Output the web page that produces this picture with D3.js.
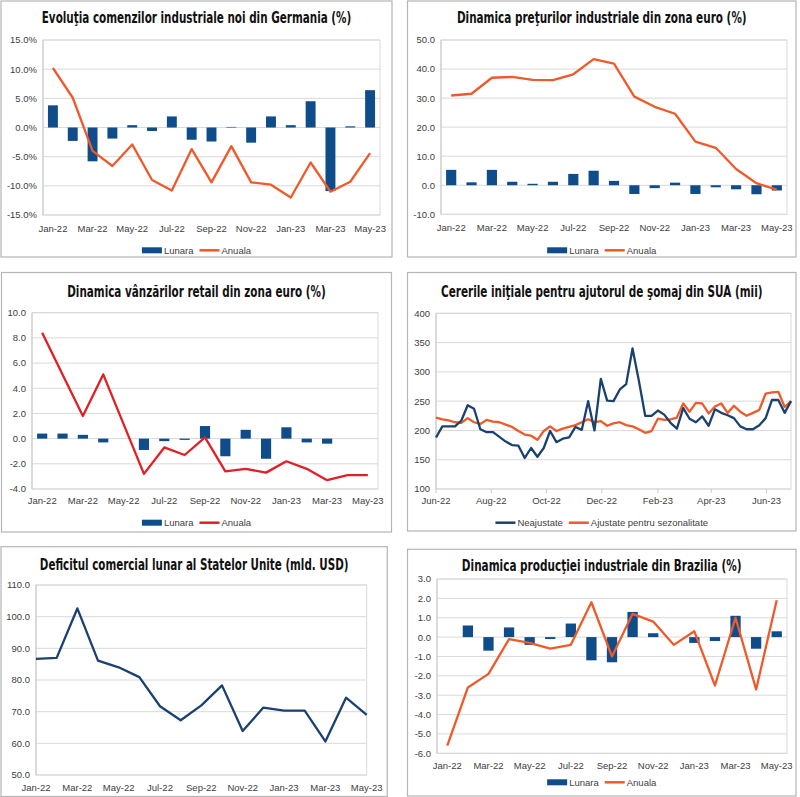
<!DOCTYPE html>
<html><head><meta charset="utf-8">
<script src="https://cdn.jsdelivr.net/npm/d3@7"></script>
<style>
body{margin:0;background:#fff;}
svg{display:block;font-family:"Liberation Sans",Arial,sans-serif;}
.title{font-family:"Liberation Sans Narrow","DejaVu Sans Condensed",sans-serif;font-weight:bold;font-size:15.5px;fill:#111;}
.tk{font-size:9.5px;fill:#404040;}
.leg{font-size:9.5px;fill:#404040;}
</style></head><body>
<svg id="c" width="800" height="797"></svg>
<script>
// ---------- DATA ----------
const months = ["Jan-22","Feb-22","Mar-22","Apr-22","May-22","Jun-22","Jul-22","Aug-22","Sep-22","Oct-22","Nov-22","Dec-22","Jan-23","Feb-23","Mar-23","Apr-23","May-23"];
const monthTicks = ["Jan-22","Mar-22","May-22","Jul-22","Sep-22","Nov-22","Jan-23","Mar-23","May-23"];

const deOrdersMonthly = [3.8,-2.3,-5.8,-1.9,0.4,-0.6,1.9,-2.1,-2.4,0.1,-2.6,1.9,0.4,4.5,-10.9,0.2,6.4];
const deOrdersAnnual  = [10.2,5.1,-4.0,-6.6,-2.9,-9.0,-10.8,-3.7,-9.4,-3.2,-9.4,-9.8,-12.0,-6.0,-11.0,-9.3,-4.4];
const deOrdersTicks   = [-15,-10,-5,0,5,10,15];

const ezPpiMonthly = [5.3,1.0,5.3,1.2,0.5,1.2,3.9,5.0,1.5,-3.0,-1.0,0.9,-3.0,-0.7,-1.4,-3.1,-1.8];
const ezPpiAnnual  = [30.9,31.5,37.0,37.3,36.3,36.2,38.2,43.4,41.9,30.5,27.0,24.6,15.0,12.9,5.6,0.7,-1.5];
const ezPpiTicks   = [-10,0,10,20,30,40,50];

const ezRetailMonthly = [0.4,0.4,0.3,-0.3,null,-0.9,-0.2,-0.1,1.0,-1.4,0.7,-1.6,0.9,-0.3,-0.4,0.0,null];
const ezRetailAnnual  = [8.4,5.1,1.8,5.1,null,-2.8,-0.7,-1.3,0.1,-2.6,-2.4,-2.7,-1.8,-2.4,-3.3,-2.9,-2.9];
const ezRetailTicks   = [-4,-2,0,2,4,6,8,10];

const claimsDates = ["2022-06-04","2022-06-11","2022-06-18","2022-06-25","2022-07-02","2022-07-09","2022-07-16","2022-07-23","2022-07-30",
  "2022-08-06","2022-08-13","2022-08-20","2022-08-27","2022-09-03","2022-09-10","2022-09-17","2022-09-24",
  "2022-10-01","2022-10-08","2022-10-15","2022-10-22","2022-10-29","2022-11-05","2022-11-12","2022-11-19","2022-11-26",
  "2022-12-03","2022-12-10","2022-12-17","2022-12-24","2022-12-31","2023-01-07","2023-01-14","2023-01-21","2023-01-28",
  "2023-02-04","2023-02-11","2023-02-18","2023-02-25","2023-03-04","2023-03-11","2023-03-18","2023-03-25",
  "2023-04-01","2023-04-08","2023-04-15","2023-04-22","2023-04-29","2023-05-06","2023-05-13","2023-05-20","2023-05-27",
  "2023-06-03","2023-06-10","2023-06-17","2023-06-24","2023-07-01"];
const claimsNsa = [188,207,207,207,217,243,237,202,197,197,189,181,175,174,153,170,155,170,199,180,186,188,206,201,250,200,288,251,250,270,279,340,285,225,225,234,227,213,203,238,220,214,224,208,236,230,226,221,207,202,202,209,221,252,252,230,250];
const claimsSa  = [222,219,217,214,213,221,214,211,218,215,214,210,206,199,193,191,184,199,207,199,203,206,209,214,219,214,216,208,212,214,209,207,202,196,199,220,218,219,222,246,232,247,246,229,241,246,230,242,232,225,230,235,263,265,266,240,250];
const claimsTicks = ["2022-06-04","2022-08-04","2022-10-04","2022-12-04","2023-02-04","2023-04-04","2023-06-04"];
const claimsYTicks = [100,150,200,250,300,350,400];

const usDeficit = [86.7,87.0,102.6,86.1,84.0,80.9,71.7,67.3,72.0,78.3,63.9,71.3,70.3,70.3,60.6,74.4,69.0];
const usDeficitTicks = [50,60,70,80,90,100,110];

const brIpMonthly = [null,0.6,-0.7,0.5,-0.4,-0.1,0.7,-1.2,-1.3,1.3,0.2,null,-0.3,-0.2,1.1,-0.6,0.3];
const brIpAnnual  = [-5.6,-2.6,-1.9,-0.1,-0.3,-0.6,-0.4,1.8,-1.0,1.2,0.8,-0.4,0.3,-2.5,1.0,-2.7,1.9];
const brIpTicks   = [-6,-5,-4,-3,-2,-1,0,1,2,3];

// ---------- STYLE ----------
const BAR = "#0f4c8a", ORANGE = "#ef5a2a", RED = "#e31e24", NAVY = "#1a4170";
const GRID = "#d9d9d9", BORDER = "#b5b5b5";
const svg = d3.select("#c");
const parse = d3.timeParse("%Y-%m-%d");

function frame(box, title, titleW, titleY) {
  svg.append("rect").attr("x", box[0]).attr("y", box[1])
    .attr("width", box[2]-box[0]).attr("height", box[3]-box[1])
    .attr("fill", "#fff").attr("stroke", BORDER).attr("stroke-width", 1.2);
  const cx = (box[0]+box[2])/2;
  const g = svg.append("g");
  const t = g.append("text").attr("class","title")
    .attr("x", 0).attr("y", 0).attr("text-anchor","middle").text(title);
  const w = t.node().getComputedTextLength();
  const k = Math.min(1, titleW / w);
  g.attr("transform", `translate(${cx},${titleY}) scale(${k},1)`);
}

function yGrid(p, y, ticks, fmt) {
  const g = svg.append("g");
  ticks.forEach(t => {
    g.append("line").attr("x1", p.l).attr("x2", p.r).attr("y1", y(t)).attr("y2", y(t))
      .attr("stroke", GRID).attr("stroke-width", 1);
    g.append("text").attr("class","tk").attr("x", p.l-6).attr("y", y(t)+3.4)
      .attr("text-anchor","end").text(fmt(t));
  });
  g.append("rect").attr("x", p.l).attr("y", p.t).attr("width", p.r-p.l).attr("height", p.b-p.t)
    .attr("fill","none").attr("stroke", GRID);
  g.append("line").attr("x1", p.l).attr("x2", p.l).attr("y1", p.t).attr("y2", p.b).attr("stroke", "#c8c8c8");
}

function xLabels(labels, xpos, yc) {
  labels.forEach(l => {
    svg.append("text").attr("class","tk").attr("x", xpos(l)).attr("y", yc+3.4)
      .attr("text-anchor","middle").text(l);
  });
}

function legend(cx, cy, items) {
  const g = svg.append("g");
  let x = 0;
  items.forEach(it => {
    if (it.type === "bar")
      g.append("rect").attr("x", x).attr("y", cy-3).attr("width", 20).attr("height", 6).attr("fill", it.color);
    else
      g.append("line").attr("x1", x).attr("x2", x+20).attr("y1", cy).attr("y2", cy)
        .attr("stroke", it.color).attr("stroke-width", 2.5);
    const t = g.append("text").attr("class","leg").attr("x", x+22).attr("y", cy+3.4).text(it.label);
    x += 22 + t.node().getComputedTextLength() + 6;
  });
  g.attr("transform", `translate(${cx - (x-6)/2},0)`);
}

function barLinePanel(cfg) {
  frame(cfg.box, cfg.title, cfg.titleW, cfg.titleY);
  const p = cfg.plot;
  const x = d3.scaleBand().domain(months).range([p.l, p.r]);
  const y = d3.scaleLinear().domain(d3.extent(cfg.ticks)).range([p.b, p.t]);
  yGrid(p, y, cfg.ticks, cfg.fmt);
  const bw = x.bandwidth()*0.5;
  const bars = months.map((m,i) => ({m, v: cfg.monthly[i]})).filter(d => d.v != null);
  svg.append("g").selectAll("rect").data(bars).join("rect")
    .attr("x", d => x(d.m) + (x.bandwidth()-bw)/2)
    .attr("y", d => Math.min(y(d.v), y(0)))
    .attr("width", bw)
    .attr("height", d => Math.abs(y(d.v)-y(0)))
    .attr("fill", BAR);
  const pts = months.map((m,i) => ({m, v: cfg.annual[i]})).filter(d => d.v != null);
  svg.append("path").datum(pts)
    .attr("d", d3.line().x(d => x(d.m) + x.bandwidth()/2).y(d => y(d.v)))
    .attr("fill","none").attr("stroke", cfg.lineColor).attr("stroke-width", 2.3)
    .attr("stroke-linejoin","round");
  xLabels(monthTicks, m => x(m) + x.bandwidth()/2, cfg.labelY);
  legend((cfg.box[0]+cfg.box[2])/2, cfg.legendY, [
    {type:"bar", color: BAR, label:"Lunara"},
    {type:"line", color: cfg.lineColor, label:"Anuala"}]);
}

// Panel 1
barLinePanel({
  box:[1,1,392,257], title:"Evoluţia comenzilor industriale noi din Germania (%)", titleW:310, titleY:22.7,
  plot:{l:43,r:380,t:40,b:215}, ticks: deOrdersTicks, fmt: d => d.toFixed(1)+"%",
  monthly: deOrdersMonthly, annual: deOrdersAnnual, lineColor: ORANGE, labelY: 228.3, legendY: 250.3
});
// Panel 2
barLinePanel({
  box:[407.5,1,796,257], title:"Dinamica preţurilor industriale din zona euro (%)", titleW:290, titleY:22.7,
  plot:{l:441,r:787,t:40,b:214.3}, ticks: ezPpiTicks, fmt: d => d.toFixed(1),
  monthly: ezPpiMonthly, annual: ezPpiAnnual, lineColor: ORANGE, labelY: 228, legendY: 250.3
});
// Panel 3
barLinePanel({
  box:[1.5,272.5,391.5,532], title:"Dinamica vânzărilor retail din zona euro (%)", titleW:259, titleY:296.5,
  plot:{l:32,r:378,t:312.7,b:489}, ticks: ezRetailTicks, fmt: d => d.toFixed(1),
  monthly: ezRetailMonthly, annual: ezRetailAnnual, lineColor: RED, labelY: 501, legendY: 522.7
});
// Panel 6
barLinePanel({
  box:[407.5,549.3,796,796], title:"Dinamica producţiei industriale din Brazilia (%)", titleW:280, titleY:570.5,
  plot:{l:437,r:787,t:579,b:753.3}, ticks: brIpTicks, fmt: d => d.toFixed(1),
  monthly: brIpMonthly, annual: brIpAnnual, lineColor: ORANGE, labelY: 765.7, legendY: 782.3
});

// Panel 4 - weekly claims
(function(){
  const box = [407.5,272.5,796,531];
  frame(box, "Cererile iniţiale pentru ajutorul de şomaj din SUA (mii)", 321.6, 296.5);
  const p = {l:436,r:791,t:313.3,b:489};
  const dates = claimsDates.map(parse);
  const x = d3.scaleTime().domain([dates[0], dates[dates.length-1]]).range([p.l, p.r]);
  const y = d3.scaleLinear().domain(d3.extent(claimsYTicks)).range([p.b, p.t]);
  yGrid(p, y, claimsYTicks, d3.format("d"));
  const tickDates = claimsTicks.map(parse);
  tickDates.forEach(d => svg.append("line").attr("x1", x(d)).attr("x2", x(d)).attr("y1", p.b).attr("y2", p.b+4).attr("stroke","#c8c8c8"));
  const fmt = d3.timeFormat("%b-%y");
  tickDates.forEach(d => svg.append("text").attr("class","tk").attr("x", x(d)).attr("y", 501+3.4)
    .attr("text-anchor","middle").text(fmt(d)));
  const line = d3.line().x((d,i) => x(dates[i])).y(d => y(d));
  svg.append("path").datum(claimsSa).attr("d", line).attr("fill","none")
    .attr("stroke", ORANGE).attr("stroke-width", 2.3).attr("stroke-linejoin","round");
  svg.append("path").datum(claimsNsa).attr("d", line).attr("fill","none")
    .attr("stroke", NAVY).attr("stroke-width", 2.3).attr("stroke-linejoin","round");
  legend((box[0]+box[2])/2, 522.7, [
    {type:"line", color: NAVY, label:"Neajustate"},
    {type:"line", color: ORANGE, label:"Ajustate pentru sezonalitate"}]);
})();

// Panel 5 - US trade deficit
(function(){
  const box = [1,546.7,387.3,796.5];
  frame(box, "Deficitul comercial lunar al Statelor Unite (mld. USD)", 309, 570);
  const p = {l:36,r:366.7,t:585,b:775};
  const x = d3.scalePoint().domain(months).range([p.l, p.r]);
  const y = d3.scaleLinear().domain(d3.extent(usDeficitTicks)).range([p.b, p.t]);
  yGrid(p, y, usDeficitTicks, d => d.toFixed(1));
  svg.append("path").datum(usDeficit)
    .attr("d", d3.line().x((d,i) => x(months[i])).y(d => y(d)))
    .attr("fill","none").attr("stroke", NAVY).attr("stroke-width", 2.3).attr("stroke-linejoin","round");
  xLabels(monthTicks, m => x(m), 787.3);
})();
</script>
</body></html>
